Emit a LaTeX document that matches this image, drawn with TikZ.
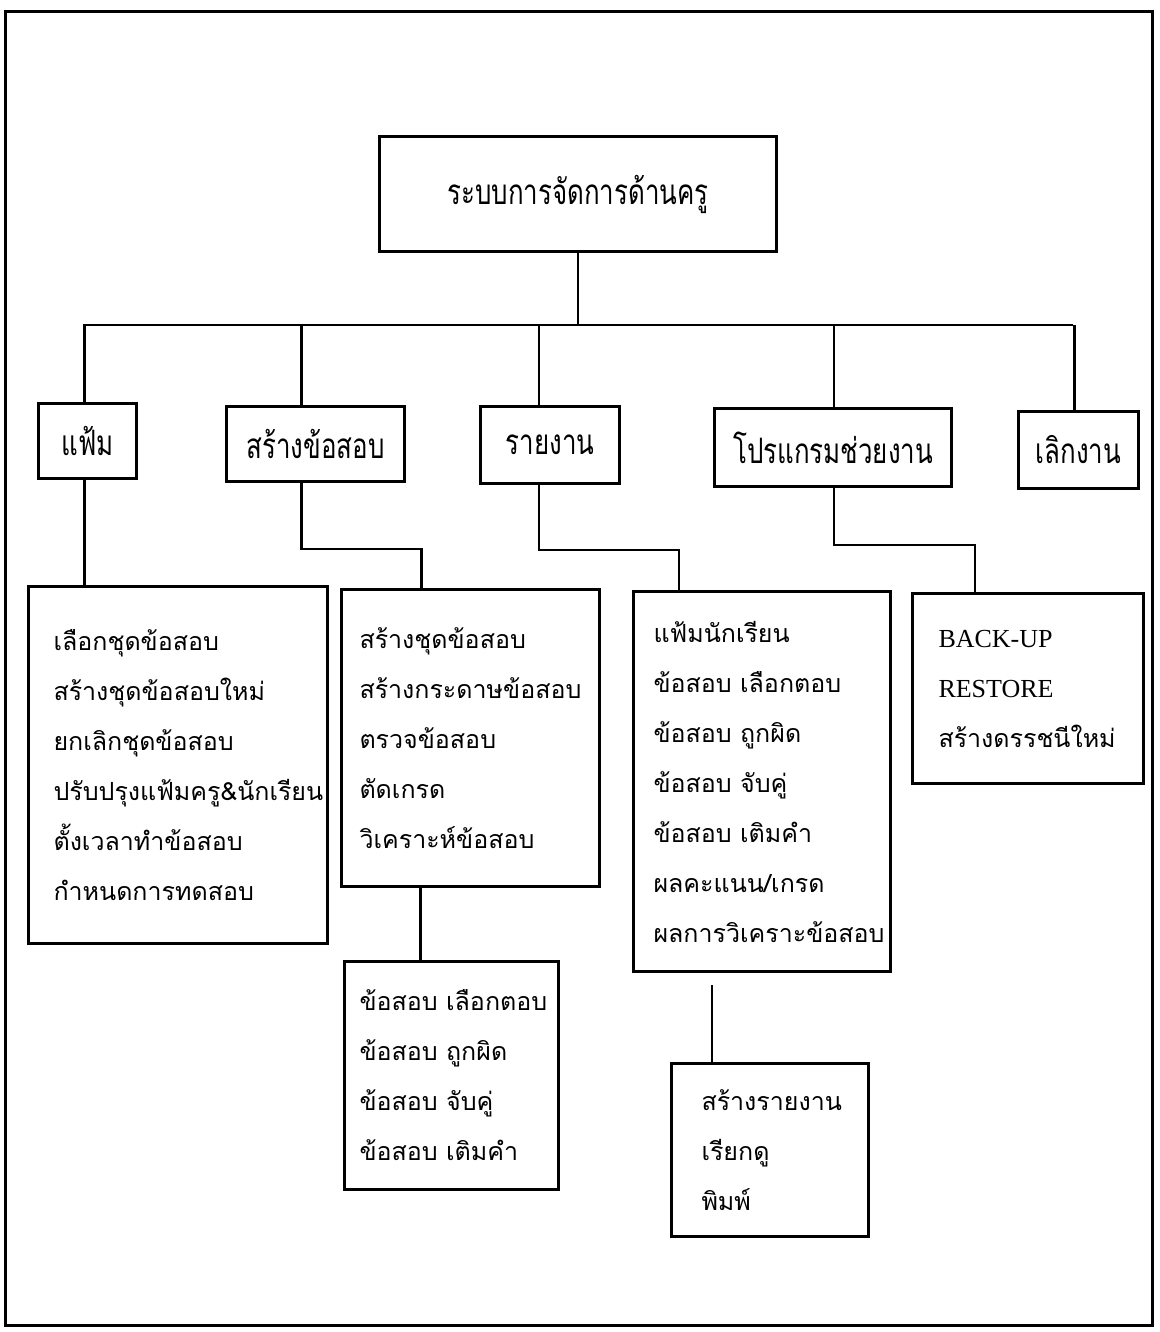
\documentclass[tikz,border=0pt]{standalone}
\usepackage{fontspec}
\setmainfont{Liberation Serif}
\newfontfamily\thaifont[Script=Thai]{Loma}
\newfontfamily\thaihead[Script=Thai,FakeStretch=0.74]{Loma}
\tikzset{
  headbox/.style={draw, line width=3pt, anchor=north west, inner sep=0pt,
    font=\thaihead\fontsize{35}{40}\selectfont},
  listbox/.style={draw, line width=3pt, anchor=north west, align=left,
    inner ysep=0pt, font=\thaifont\fontsize{25}{50}\selectfont},
  link/.style={line width=2.2pt},
}
\begin{document}
\begin{tikzpicture}[x=1pt,y=-1pt]
\useasboundingbox (0,0) rectangle (1159,1332);
\draw[line width=3pt] (5,12) rectangle (1152,1325);

\node[headbox, minimum width=397pt, minimum height=115pt] (root) at (378,135) {ระบบการจัดการด้านครู};
\node[headbox, minimum width=98pt, minimum height=75pt] (file) at (37,402) {แฟ้ม};
\node[headbox, minimum width=178pt, minimum height=75pt] (make) at (225,405) {สร้างข้อสอบ};
\node[headbox, minimum width=139pt, minimum height=77pt] (report) at (479,405) {รายงาน};
\node[headbox, minimum width=237pt, minimum height=78pt] (tools) at (713,407) {โปรแกรมช่วยงาน};
\node[headbox, minimum width=120pt, minimum height=77pt] (quit) at (1017,410) {เลิกงาน};

\node[listbox, inner xsep=25pt, text width=249pt, minimum height=357pt] (fileList) at (27,585)
  {เลือกชุดข้อสอบ\\สร้างชุดข้อสอบใหม่\\ยกเลิกชุดข้อสอบ\\ปรับปรุงแฟ้มครู\&นักเรียน\\ตั้งเวลาทำข้อสอบ\\กำหนดการทดสอบ};
\node[listbox, inner xsep=18pt, text width=222pt, minimum height=297pt] (makeList) at (340,588)
  {สร้างชุดข้อสอบ\\สร้างกระดาษข้อสอบ\\ตรวจข้อสอบ\\ตัดเกรด\\วิเคราะห์ข้อสอบ};
\node[listbox, inner xsep=20pt, text width=217pt, minimum height=380pt] (reportList) at (632,590)
  {แฟ้มนักเรียน\\ข้อสอบ~เลือกตอบ\\ข้อสอบ~ถูกผิด\\ข้อสอบ~จับคู่\\ข้อสอบ~เติมคำ\\ผลคะแนน/เกรด\\ผลการวิเคราะข้อสอบ};
\node[listbox, inner xsep=26pt, text width=179pt, minimum height=190pt] (toolsList) at (911,592)
  {{\rmfamily\fontsize{26}{50}\selectfont BACK-UP}\\{\rmfamily\fontsize{26}{50}\selectfont RESTORE}\\สร้างดรรชนีใหม่};
\node[listbox, inner xsep=15pt, text width=184pt, minimum height=228pt] (makeSub) at (343,960)
  {ข้อสอบ~เลือกตอบ\\ข้อสอบ~ถูกผิด\\ข้อสอบ~จับคู่\\ข้อสอบ~เติมคำ};
\node[listbox, inner xsep=30pt, text width=137pt, minimum height=173pt] (reportSub) at (670,1062)
  {สร้างรายงาน\\เรียกดู\\พิมพ์};

\coordinate (busL) at (83,325);
\coordinate (busR) at (1073,325);
\draw[link] (busL) -- (busR);
\draw[link] (root.south) -- (root.south |- busL);
\foreach \n/\dx in {file/-3,make/-14,report/-11,tools/1,quit/-4}
  \draw[link] ([xshift=\dx pt]\n.north |- busL) -- ([xshift=\dx pt]\n.north);

\draw[link] ([xshift=-3pt]file.south) -- ([xshift=-3pt]file.south |- fileList.north);
\draw[link] ([xshift=-14pt]make.south) -- ++(0,66) -| ([xshift=-49pt]makeList.north);
\draw[link] ([xshift=-11pt]report.south) -- ++(0,65) -| ([xshift=-83pt]reportList.north);
\draw[link] ([xshift=1pt]tools.south) -- ++(0,57) -| ([xshift=-53pt]toolsList.north);
\draw[link] ([xshift=-50pt]makeList.south) -- ([xshift=-50pt]makeList.south |- makeSub.north);
\draw[link] ([xshift=-58pt]reportSub.north) -- ++(0,-77);
\end{tikzpicture}
\end{document}
